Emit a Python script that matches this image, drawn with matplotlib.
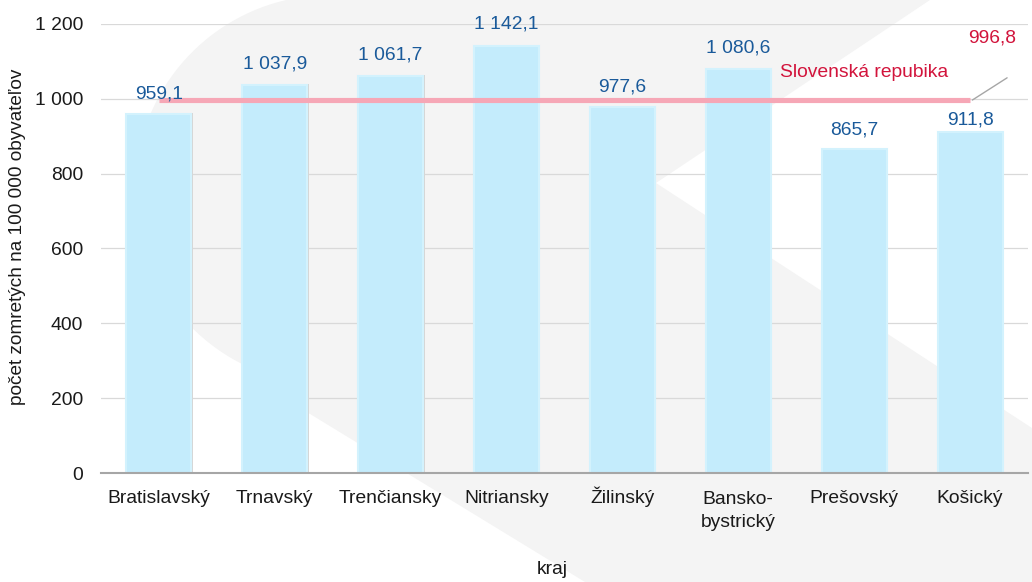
import numpy as np
import matplotlib
matplotlib.use("Agg")
import matplotlib.pyplot as plt
import matplotlib.transforms as mtrans
from matplotlib.patches import Polygon

# ---- data ----
categories = ['Bratislavský', 'Trnavský', 'Trenčiansky', 'Nitriansky', 'Žilinský',
              'Bansko-\nbystrický', 'Prešovský', 'Košický']
values = [959.1, 1037.9, 1061.7, 1142.1, 977.6, 1080.6, 865.7, 911.8]
sr_value = 996.8
sr_label = 'Slovenská repubika'
yticks = [0, 200, 400, 600, 800, 1000, 1200]
ylabel = 'počet zomretých na 100 000 obyvateľov'
xlabel = 'kraj'

# label offsets above bars (points) - layout only
label_offsets = [14.8, 15.2, 15.2, 15.5, 14.8, 14.8, 14.0, 8.8]


def fmt(v, dec=1):
    s = f"{v:,.{dec}f}"
    return s.replace(',', ' ').replace('.', ',')


plt.rcParams['font.family'] = ['Liberation Sans', 'DejaVu Sans']
FS = 13.9
W, H = 1032, 582
fig = plt.figure(figsize=(W / 100, H / 100), dpi=100)
fig.patch.set_facecolor('white')

# ---- faint watermark shape in the background (pixel coords, y down) ----
pts = [(286, 0), (930, 0), (656, 183), (1032, 428), (1032, 582), (585, 582), (243, 373)]
cx, cy, r = 330, 190, 195
for a in np.linspace(np.deg2rad(115), np.deg2rad(257), 60):
    pts.append((cx + r * np.cos(a), cy + r * np.sin(a)))
pts_fig = [(x / W, 1 - y / H) for x, y in pts]
wm = Polygon(pts_fig, closed=True, transform=fig.transFigure, facecolor='#f4f4f4',
             edgecolor='none', zorder=-5)
fig.add_artist(wm)

# ---- axes ----
left, right, bottom, top = 101 / W, 1028 / W, 1 - 473 / H, 1 - 24 / H
ax = fig.add_axes([left, bottom, right - left, top - bottom])
ax.set_facecolor('none')

x = np.arange(len(categories))
bw = 0.56
# soft shadow behind bars
ax.bar(x + 0.012, np.array(values) + 3, width=bw, color='#d6d6d6', zorder=2, linewidth=0)
ax.bar(x, values, width=bw, color='#c4ecfc', edgecolor='#d3f2fd', linewidth=1.5, zorder=3)

# national average line
ax.plot([x[0], x[-1]], [sr_value, sr_value], color='#f6a7b6', lw=3.7,
        solid_capstyle='butt', zorder=4)

label_color = '#1a5a9a'
for xi, v, off in zip(x, values, label_offsets):
    ax.annotate(fmt(v), xy=(xi, v), xytext=(0, off), textcoords='offset points',
                ha='center', va='center', fontsize=FS, color=label_color, zorder=6)

red = '#d2143c'
ax.annotate(sr_label, xy=(x[-1], sr_value), xytext=(-136.5, 19.5), textcoords='offset points',
            ha='left', va='center', fontsize=FS, color=red, zorder=6)
ax.annotate(fmt(sr_value), xy=(x[-1], sr_value), xytext=(15.8, 44.5), textcoords='offset points',
            ha='center', va='center', fontsize=FS, color=red, zorder=6)
ax.annotate('', xy=(x[-1] + 0.02, sr_value), xytext=(25.0, 16.0), textcoords='offset points',
            arrowprops=dict(arrowstyle='-', color='#a6a6a6', lw=1.0, shrinkA=0, shrinkB=0),
            zorder=5)

ax.set_xlim(-0.5, len(categories) - 0.5)
ax.set_ylim(0, 1200)
ax.set_yticks(yticks)
ax.set_yticklabels([fmt(t, 0) for t in yticks], fontsize=FS, color='#1a1a1a')
ax.set_xticks(x)
ax.set_xticklabels(categories, fontsize=FS, color='#1a1a1a', linespacing=1.42)
ax.tick_params(axis='both', length=0)
ax.tick_params(axis='y', pad=13)
ax.tick_params(axis='x', pad=21.5)
LINE_GAP_IN = 0.24
for lbl in ax.get_xticklabels():
    lbl.set_verticalalignment('baseline')
    nlines = lbl.get_text().count('\n')
    if nlines:
        lbl.set_transform(lbl.get_transform() +
                          mtrans.ScaledTranslation(0, -nlines * LINE_GAP_IN,
                                                   fig.dpi_scale_trans))

ax.grid(axis='y', color='#d9d9d9', lw=0.9, zorder=1)
ax.set_axisbelow(True)
for s in ['left', 'right', 'top']:
    ax.spines[s].set_visible(False)
ax.spines['bottom'].set_color('#a6a6a6')
ax.spines['bottom'].set_linewidth(1.5)
ax.spines['bottom'].set_zorder(4)

fig.text(18 / W, 1 - 237 / H, ylabel, rotation=90, ha='center', va='center',
         fontsize=13.7, color='#1a1a1a')
fig.text(552 / W, 1 - 570 / H, xlabel, ha='center', va='center', fontsize=FS, color='#1a1a1a')

fig.savefig('out.png', dpi=100, facecolor='white')
